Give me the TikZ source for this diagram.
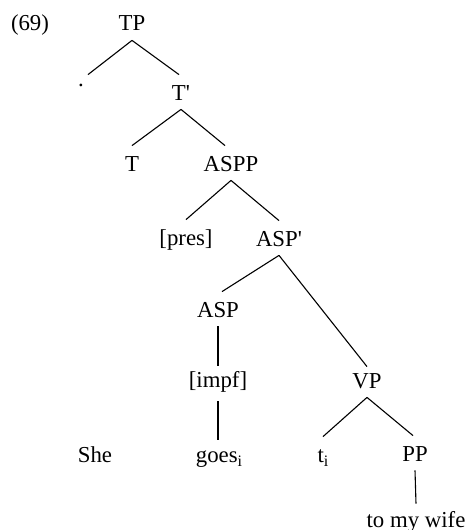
\documentclass[tikz,border=0pt]{standalone}
\usepackage{fontspec}
\setmainfont{Liberation Serif}
\newcommand{\sbi}{\raisebox{-0.45ex}{\fontsize{8}{8}\selectfont i}}
\newcommand{\pr}{\textquotesingle}
\begin{document}
\begin{tikzpicture}[x=0.5pt,y=-0.5pt,
  lab/.style={inner sep=0pt, anchor=base, text height=12.5pt, text depth=4.5pt, font=\fontsize{11.4}{13}\selectfont},
  br/.style={line width=0.55pt}]
\useasboundingbox (0,0) rectangle (467,530);
\node[lab] (ex) at (30,31) {(69)};
\node[lab] (TP) at (132,31) {TP};
\node[lab, text height=5.5pt] (dot) at (81,86) {.};
\node[lab] (Tb) at (181,100) {T\pr};
\node[lab] (T) at (132,171) {T};
\node[lab] (ASPP) at (231,171) {ASPP};
\node[lab] (pres) at (186,245) {[pres]};
\node[lab] (ASPb) at (279,246) {ASP\pr};
\node[lab] (ASP) at (218,317) {ASP};
\node[lab] (impf) at (218,387) {[impf]};
\node[lab] (goes) at (219,462) {goes\sbi};
\node[lab] (She) at (95,462) {She};
\node[lab] (VP) at (367,388) {VP};
\node[lab] (ti) at (323,462) {t\sbi};
\node[lab] (PP) at (415,461) {PP};
\node[lab] (wife) at (416,527) {to my wife};
\draw[br] (TP.south) -- ([xshift=3.5pt]dot.north);
\draw[br] (TP.south) -- ([xshift=-1pt]Tb.north);
\draw[br] (Tb.south) -- (T.north);
\draw[br] (Tb.south) -- ([xshift=-3pt]ASPP.north);
\draw[br] (ASPP.south) -- (pres.north);
\draw[br] (ASPP.south) -- (ASPb.north);
\draw[br] (ASPb.south) -- ([xshift=2pt]ASP.north);
\draw[br] (ASPb.south) -- ([yshift=-2pt]VP.north);
\draw[br] (ASP.south) -- ([yshift=-2pt]impf.north);
\draw[br] ([yshift=-2.5pt]impf.south) -- ([xshift=-0.5pt,yshift=-1.5pt]goes.north);
\draw[br] (VP.south) -- (ti.north);
\draw[br] (VP.south) -- ([xshift=-1pt]PP.north);
\draw[br] (PP.south) -- ([yshift=-1pt]wife.north);
\end{tikzpicture}
\end{document}
